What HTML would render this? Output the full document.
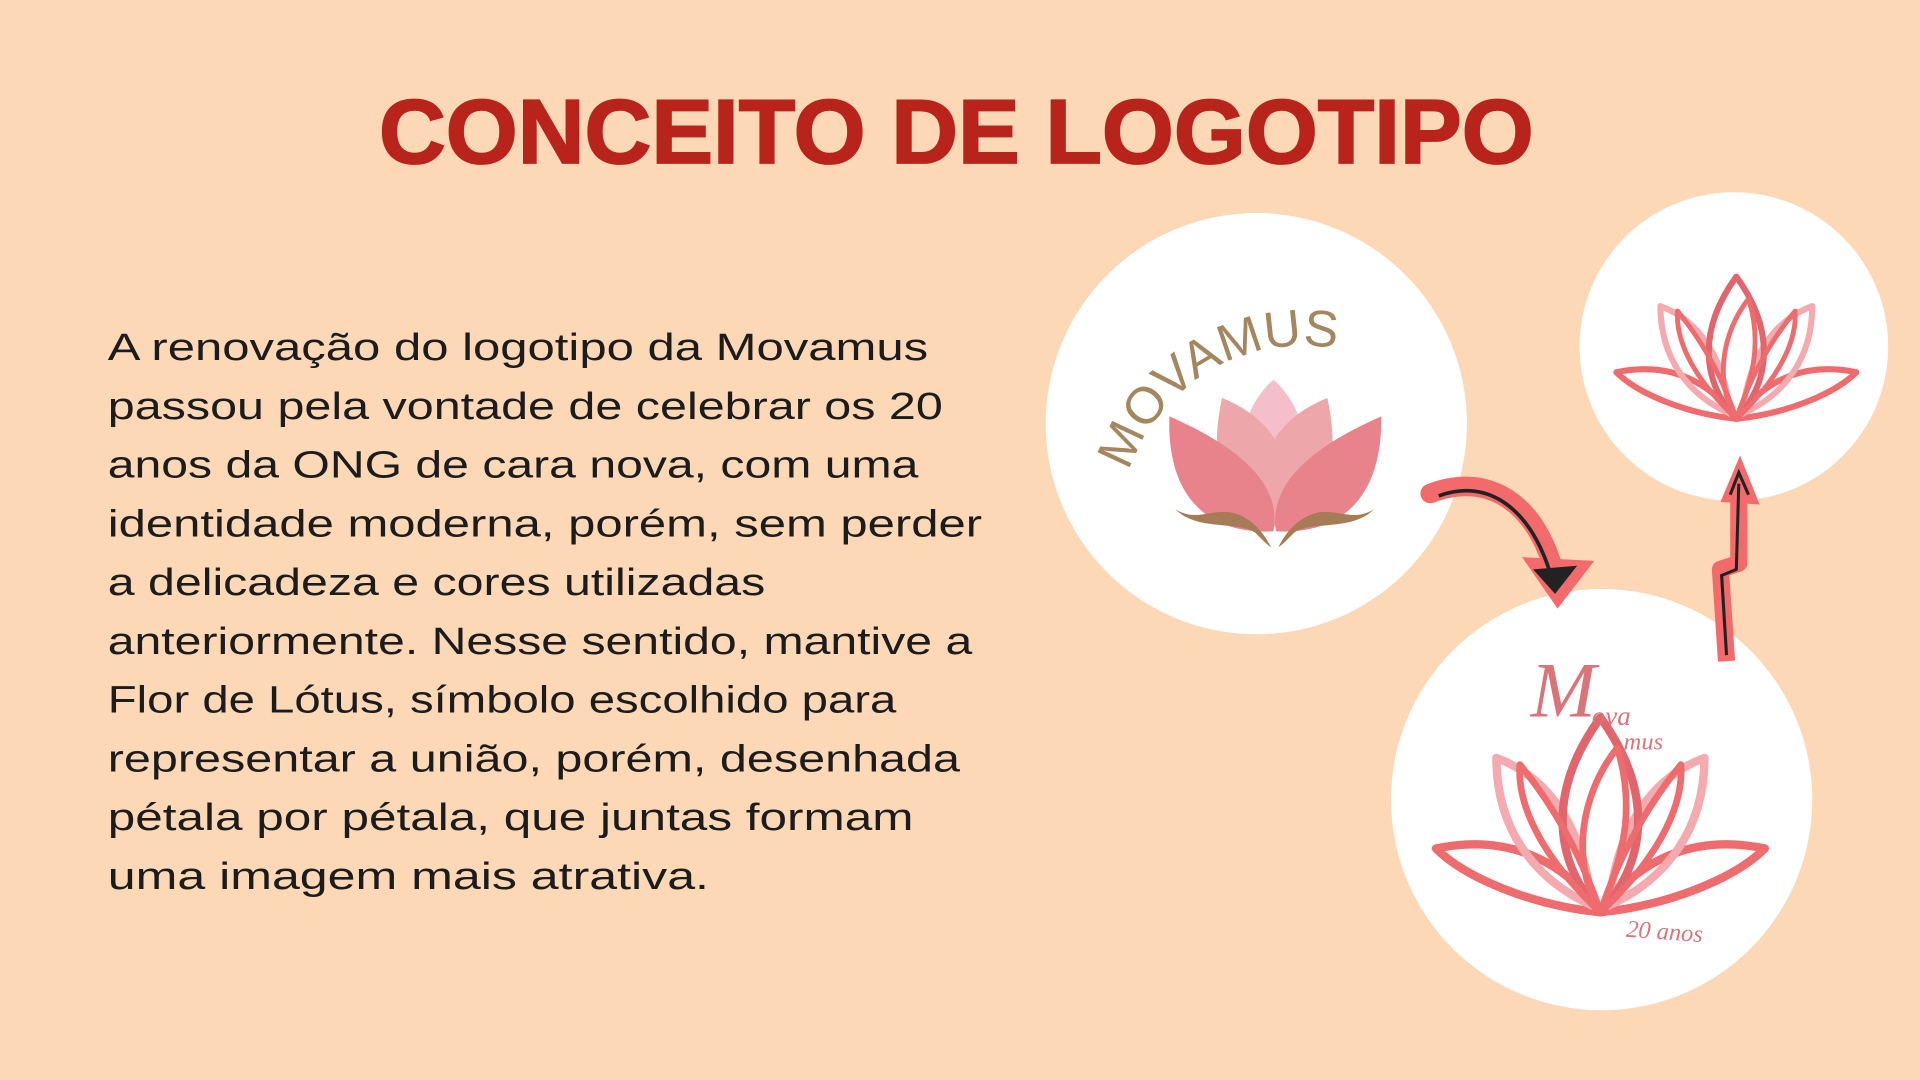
<!DOCTYPE html>
<html><head><meta charset="utf-8"><style>
html,body{margin:0;padding:0;background:#fcd8b7;width:1920px;height:1080px;overflow:hidden}
svg{display:block}
</style></head><body>
<svg width="1920" height="1080" viewBox="0 0 1568 882" xmlns="http://www.w3.org/2000/svg">
<defs>
<g id="lot" fill="none" stroke-linecap="round" stroke-linejoin="round">
 <path d="M0,0 C-40,-4 -80,-20 -98,-38 C-60,-46 -25,-35 0,0Z" stroke="#ee6b6e" stroke-width="5"/>
 <path d="M0,0 C40,-4 80,-20 98,-38 C60,-46 25,-35 0,0Z" stroke="#ee6b6e" stroke-width="5"/>
 <path d="M-5,-4 C-40,-20 -62,-50 -62,-92 C-30,-80 -10,-50 -5,-4" stroke="#f4aaae" stroke-width="5"/>
 <path d="M5,-4 C40,-20 62,-50 62,-92 C30,-80 10,-50 5,-4" stroke="#f4aaae" stroke-width="5"/>
 <path d="M0,0 C-28,-30 -32,-72 0,-116 C32,-72 28,-30 0,0Z" stroke="#e0656c" stroke-width="5"/>
 <path d="M0,0 C-30,-28 -50,-60 -48,-88 C-25,-60 -10,-30 0,0" stroke="#ee6b6e" stroke-width="4"/>
 <path d="M0,0 C30,-28 50,-60 48,-88 C25,-60 10,-30 0,0" stroke="#ee6b6e" stroke-width="4"/>
 <path d="M0,0 C-18,-30 -12,-70 10,-98 C22,-60 12,-30 0,0" stroke="#ee6b6e" stroke-width="4"/>
</g>
<path id="arc" d="M922,385 A150,150 0 0 1 1112,290"/>
</defs>
<rect width="1568" height="882" fill="#fcd8b7"/>
<text x="781" y="133" text-anchor="middle" font-family="Liberation Sans, sans-serif" font-weight="900" font-size="74" fill="#b8241c" stroke="#b8241c" stroke-width="1.5" textLength="943" lengthAdjust="spacingAndGlyphs">CONCEITO DE LOGOTIPO</text>
<g font-family="Liberation Sans, sans-serif" font-size="31" fill="#1c1c1c">
<text x="88" y="294" textLength="670" lengthAdjust="spacingAndGlyphs">A renovação do logotipo da Movamus</text>
<text x="88" y="342" textLength="682" lengthAdjust="spacingAndGlyphs">passou pela vontade de celebrar os 20</text>
<text x="88" y="390" textLength="662" lengthAdjust="spacingAndGlyphs">anos da ONG de cara nova, com uma</text>
<text x="88" y="438" textLength="714" lengthAdjust="spacingAndGlyphs">identidade moderna, porém, sem perder</text>
<text x="88" y="486" textLength="537" lengthAdjust="spacingAndGlyphs">a delicadeza e cores utilizadas</text>
<text x="88" y="534" textLength="706" lengthAdjust="spacingAndGlyphs">anteriormente. Nesse sentido, mantive a</text>
<text x="88" y="582" textLength="644" lengthAdjust="spacingAndGlyphs">Flor de Lótus, símbolo escolhido para</text>
<text x="88" y="630" textLength="696" lengthAdjust="spacingAndGlyphs">representar a união, porém, desenhada</text>
<text x="88" y="678" textLength="658" lengthAdjust="spacingAndGlyphs">pétala por pétala, que juntas formam</text>
<text x="88" y="726" textLength="491" lengthAdjust="spacingAndGlyphs">uma imagem mais atrativa.</text>
</g>
<circle cx="1026" cy="346" r="172" fill="#ffffff"/>
<circle cx="1416" cy="283" r="126" fill="#ffffff"/>
<circle cx="1308" cy="653" r="172" fill="#ffffff"/>
<!-- lotus 1 -->
<g opacity="0.88">
 <path d="M1040,310 C1068,335 1078,380 1040,430 C1002,380 1012,335 1040,310Z" fill="#f4b6c4"/>
 <path d="M998,325 C1042,342 1067,385 1042,430 C993,420 988,370 998,325Z" fill="#eb9c9f"/>
 <path d="M1084,325 C1040,342 1015,385 1040,430 C1089,420 1094,370 1084,325Z" fill="#eb9c9f"/>
 <path d="M955,340 C1012,365 1047,395 1040,434 C973,437 953,390 955,340Z" fill="#e7737c"/>
 <path d="M1128,340 C1071,365 1036,395 1042,434 C1109,437 1129,390 1128,340Z" fill="#e7737c"/>
</g>
<path d="M960,416 C978,434 1010,425 1025,435 C1030,440 1035,445 1038,447 C1030,430 1015,418 1000,418 C985,418 975,425 960,416Z" fill="#a57c56"/>
<path d="M1122,416 C1104,434 1072,425 1057,435 C1052,440 1047,445 1044,447 C1052,430 1067,418 1082,418 C1097,418 1107,425 1122,416Z" fill="#a57c56"/>
<text font-family="Liberation Sans, sans-serif" font-size="42" fill="#a4865f"><textPath href="#arc" textLength="215" lengthAdjust="spacingAndGlyphs">MOVAMUS</textPath></text>
<!-- outline lotuses -->
<use href="#lot" transform="translate(1418,342)"/>
<use href="#lot" transform="translate(1307,745) scale(1.37)"/>
<text x="1250" y="585" font-family="Liberation Serif, serif" font-style="italic" font-size="64" fill="#d9757a">M</text>
<text x="1300" y="592" font-family="Liberation Serif, serif" font-style="italic" font-size="22" fill="#d9757a">ova</text>
<text x="1326" y="612" font-family="Liberation Serif, serif" font-style="italic" font-size="20" fill="#d9757a">mus</text>
<text x="1328" y="768" font-family="Liberation Serif, serif" font-style="italic" font-size="20" fill="#d9757a" transform="rotate(4 1370 762)">20 anos</text>
<!-- arrows -->
<path d="M1168,403 C1215,385 1255,410 1270,470" fill="none" stroke="#f26a6b" stroke-width="16" stroke-linecap="round"/>
<path d="M1243,455 L1302,458 L1272,497Z" fill="#f26a6b"/>
<path d="M1175,405 C1215,390 1252,415 1268,475" fill="none" stroke="#222" stroke-width="3"/>
<path d="M1252,465 L1288,462 L1270,485Z" fill="#222"/>
<path d="M1410,540 L1405,465 L1420,460 L1420,410" fill="none" stroke="#f26a6b" stroke-width="14" stroke-linejoin="round"/>
<path d="M1405,410 L1421,372 L1437,412Z" fill="#f26a6b"/>
<path d="M1410,535 L1406,470 L1418,465 L1420,395 M1413,404 L1420,386 L1428,404" fill="none" stroke="#222" stroke-width="2.5"/>
</svg>
</body></html>
